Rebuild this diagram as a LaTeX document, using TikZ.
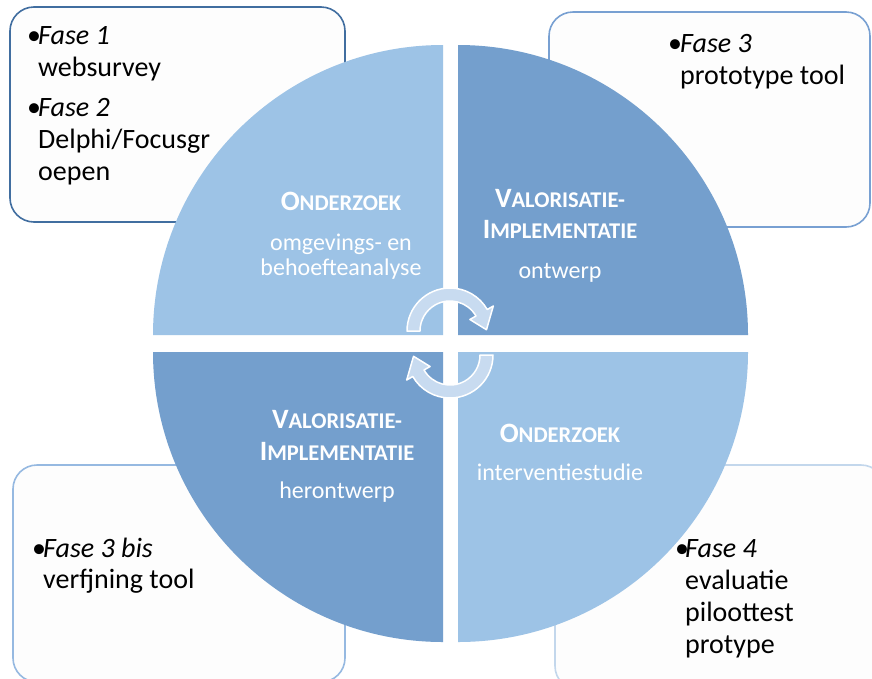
\documentclass[tikz,border=0pt]{standalone}
\usepackage{fontspec}
\setmainfont{Carlito}
\definecolor{qlight}{RGB}{157,195,230}
\definecolor{qdark}{RGB}{116,159,205}
\definecolor{boxfill}{RGB}{253,253,253}
\definecolor{bordA}{RGB}{65,110,160}
\definecolor{bordB}{RGB}{120,160,210}
\definecolor{bordC}{RGB}{150,185,225}
\definecolor{bordD}{RGB}{195,215,236}
\definecolor{arrfill}{RGB}{200,219,240}
\newcommand\smc[2]{{\fontsize{28}{32}\selectfont #1}{\fontsize{22.5}{26}\selectfont #2}}
\newcommand\cyclearrowpath{%
  \filldraw[arrowst] (180:43) arc[start angle=180,end angle=330,radius=43]
    -- (330:50) -- (358:36.5) -- (330:23) -- (330:30)
    arc[start angle=330,end angle=180,radius=30] -- cycle;}
\tikzset{
  box/.style={rounded corners=24pt, fill=boxfill, line width=1.6pt},
  ftext/.style={anchor=base west, inner sep=0pt, font=\fontsize{28}{32}\selectfont, text=black},
  qtext/.style={anchor=base, inner sep=0pt, font=\fontsize{24}{28}\selectfont, text=white},
  qhead/.style={anchor=base, inner sep=0pt, font=\bfseries, text=white},
  arrowst/.style={fill=arrfill, draw=white, line width=1.5pt, line join=round},
}
\begin{document}
\begin{tikzpicture}[x=1pt,y=-1pt]
\useasboundingbox (0,0) rectangle (872,678);
\clip (0,0) rectangle (872,678);
\fill[white] (0,0) rectangle (872,678);
% boxes
\draw[box, draw=bordA] (10,7) rectangle (345,222);
\draw[box, draw=bordB] (549,12) rectangle (870,227);
\draw[box, draw=bordC] (13,465) rectangle (345,682);
\draw[box, draw=bordD] (555,465) rectangle (885,690);
% quadrants
\fill[qlight] (443,335) -- (153,335) arc[start angle=180,end angle=270,radius=290] -- cycle;
\fill[qdark] (458,335) -- (458,45) arc[start angle=270,end angle=360,radius=290] -- cycle;
\fill[qlight] (458,352) -- (748,352) arc[start angle=0,end angle=90,radius=290] -- cycle;
\fill[qdark] (443,352) -- (443,642) arc[start angle=90,end angle=180,radius=290] -- cycle;
% cycle arrows
\begin{scope}[shift={(450,331)}]
\cyclearrowpath
\end{scope}
\begin{scope}[shift={(450,355)}, rotate=180]
\cyclearrowpath
\end{scope}
% quadrant texts
\node[qhead] (h1) at (341,210) {\smc{O}{NDERZOEK}};
\node[qtext] (t1a) at (341,250) {omgevings- en};
\node[qtext] (t1b) at (341,275) {behoefteanalyse};
\node[qhead] (h2a) at (560,207) {\smc{V}{ALORISATIE-}};
\node[qhead] (h2b) at (560,238) {\smc{I}{MPLEMENTATIE}};
\node[qtext] (t2) at (560,278) {ontwerp};
\node[qhead] (h3a) at (337,428) {\smc{V}{ALORISATIE-}};
\node[qhead] (h3b) at (337,460) {\smc{I}{MPLEMENTATIE}};
\node[qtext] (t3) at (337,498) {herontwerp};
\node[qhead] (h4) at (560,442) {\smc{O}{NDERZOEK}};
\node[qtext] (t4) at (560,480) {interventiestudie};
% box texts
\node[ftext] (b1) at (27,44) {•};
\node[ftext] (f1) at (38,44) {\itshape Fase 1};
\node[ftext] (f1b) at (38,76) {websurvey};
\node[ftext] (b2) at (27,116) {•};
\node[ftext] (f2) at (38,116) {\itshape Fase 2};
\node[ftext] (f2b) at (38,148) {Delphi/Focusgr};
\node[ftext] (f2c) at (38,180) {oepen};
\node[ftext] (b3) at (668,52) {•};
\node[ftext] (f3) at (680,52) {\itshape Fase 3};
\node[ftext] (f3b) at (680,84) {prototype tool};
\node[ftext] (b4) at (32,557) {•};
\node[ftext] (f4) at (43,557) {\itshape Fase 3 bis};
\node[ftext] (f4b) at (43,588) {verfjning tool};
\node[ftext] (b5) at (675,557) {•};
\node[ftext] (f5) at (685,557) {\itshape Fase 4};
\node[ftext] (f5b) at (685,589) {evaluatie};
\node[ftext] (f5c) at (685,621) {piloottest};
\node[ftext] (f5d) at (685,653) {protype};
\end{tikzpicture}
\end{document}
